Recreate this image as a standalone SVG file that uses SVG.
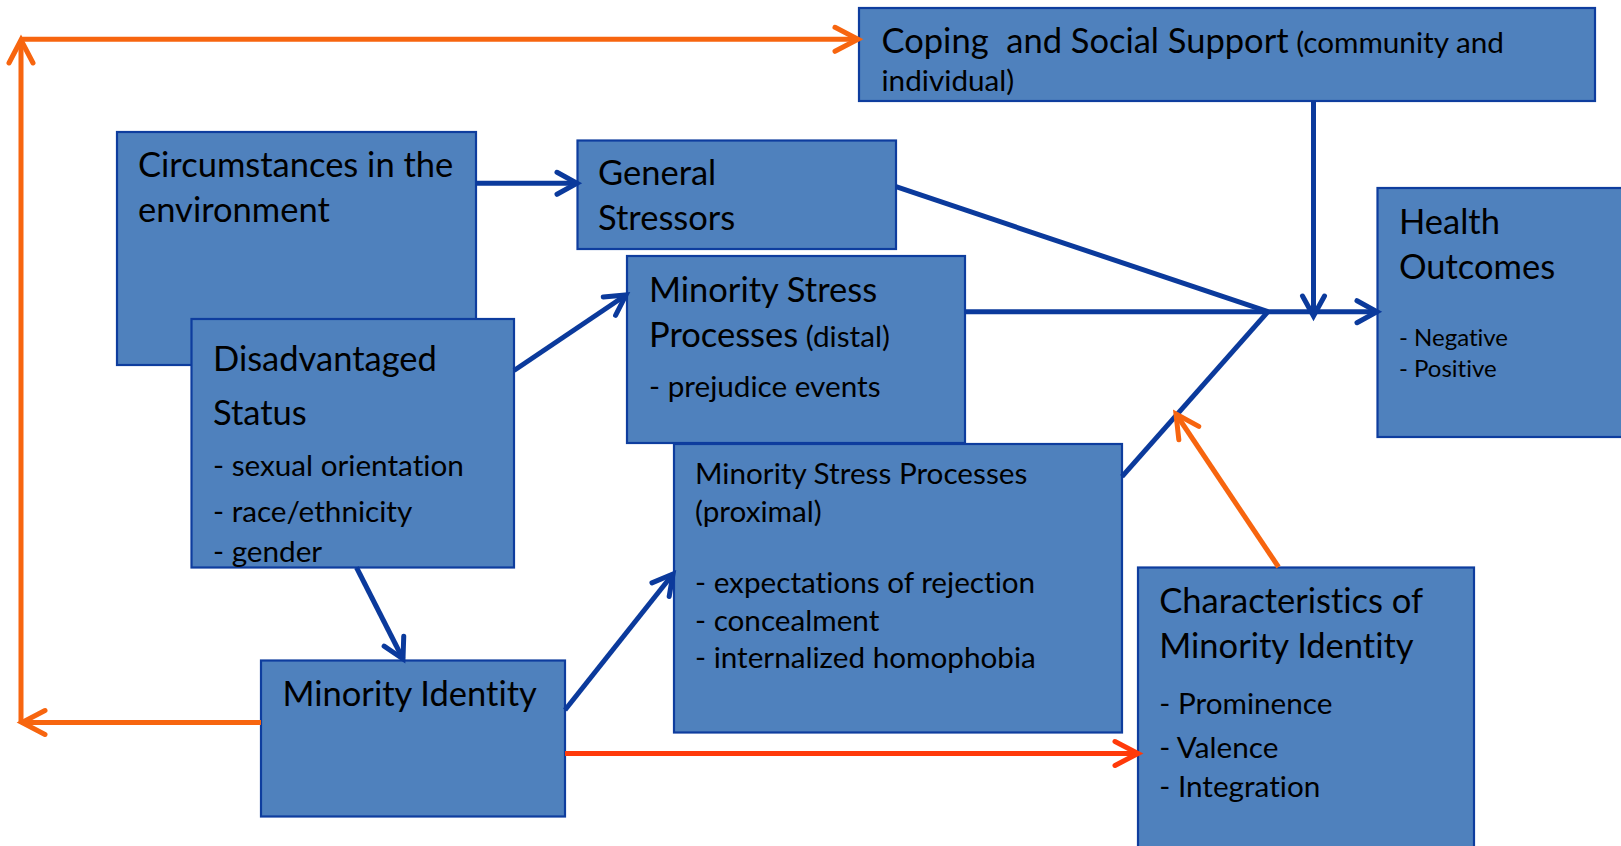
<svg xmlns="http://www.w3.org/2000/svg" width="1621" height="846" viewBox="0 0 1621 846">
<defs>
<style>
.box{fill:#4F81BD;stroke:#0E3D9E;stroke-width:2.2}
text{font-family:Lato,"Liberation Sans",sans-serif;fill:#000;font-variant-ligatures:none}
.b{font-size:34.5px}
.s{font-size:29.7px}
.xs{font-size:24px}
.cb{stroke:#0B3A9C;stroke-width:5;fill:none}
.co{stroke:#F7650F;stroke-width:5;fill:none}
.cr{stroke:#FF3A0A;stroke-width:5;fill:none}
</style>
<marker id="aB" viewBox="-26 -16 32 32" markerWidth="32" markerHeight="32" refX="0" refY="0" orient="auto" markerUnits="userSpaceOnUse" overflow="visible">
<path d="M-20,-11 L0,0 L-20,11" fill="none" stroke="#0B3A9C" stroke-width="5" stroke-linecap="round" stroke-linejoin="miter"/>
</marker>
<marker id="aO" viewBox="-26 -16 32 32" markerWidth="32" markerHeight="32" refX="0" refY="0" orient="auto" markerUnits="userSpaceOnUse" overflow="visible">
<path d="M-23,-12 L0,0 L-23,12" fill="none" stroke="#F7650F" stroke-width="5" stroke-linecap="round" stroke-linejoin="miter"/>
</marker>
<marker id="aR" viewBox="-26 -16 32 32" markerWidth="32" markerHeight="32" refX="0" refY="0" orient="auto" markerUnits="userSpaceOnUse" overflow="visible">
<path d="M-23,-12 L0,0 L-23,12" fill="none" stroke="#FF3A0A" stroke-width="5" stroke-linecap="round" stroke-linejoin="miter"/>
</marker>
</defs>
<rect width="1621" height="846" fill="#fff"/>

<g id="coping">
<rect class="box" x="859" y="8" width="736" height="93"/>
<text x="881.5" y="53.3" xml:space="preserve"><tspan class="b">Coping  and Social Support</tspan><tspan class="s"> (community and</tspan></text>
<text class="s" x="881.5" y="90.7">individual)</text>
</g>

<g id="circumstances">
<rect class="box" x="117" y="132" width="359" height="233"/>
<text class="b" x="138" y="177">Circumstances in the</text>
<text class="b" x="138" y="222">environment</text>
</g>

<g id="general">
<rect class="box" x="577.5" y="140.5" width="318.5" height="108.5"/>
<text class="b" x="598" y="185">General</text>
<text class="b" x="598" y="230">Stressors</text>
</g>

<g id="distal">
<rect class="box" x="627" y="256" width="338" height="187"/>
<text class="b" x="649" y="301.7">Minority Stress</text>
<text x="649" y="346.7"><tspan class="b">Processes</tspan><tspan class="s"> (distal)</tspan></text>
<text class="s" x="649" y="397">- prejudice events</text>
</g>

<g id="disadvantaged">
<rect class="box" x="191.5" y="319" width="322.5" height="248.5"/>
<text class="b" x="213" y="371">Disadvantaged</text>
<text class="b" x="213" y="424.5">Status</text>
<text class="s" x="213" y="475.5">- sexual orientation</text>
<text class="s" x="213" y="522">- race/ethnicity</text>
<text class="s" x="213" y="562">- gender</text>
</g>

<g id="health">
<rect class="box" x="1377.5" y="188" width="260" height="249"/>
<text class="b" x="1399" y="234">Health</text>
<text class="b" x="1399" y="279">Outcomes</text>
<text class="xs" x="1399" y="345.7">- Negative</text>
<text class="xs" x="1399" y="377.3">- Positive</text>
</g>

<g id="proximal">
<rect class="box" x="674" y="444" width="448" height="288.5"/>
<text class="s" x="695" y="483.5">Minority Stress Processes</text>
<text class="s" x="695" y="521.7">(proximal)</text>
<text class="s" x="695" y="593.3">- expectations of rejection</text>
<text class="s" x="695" y="630.7">- concealment</text>
<text class="s" x="695" y="668.3">- internalized homophobia</text>
</g>

<g id="minority-identity">
<rect class="box" x="261" y="660.5" width="304" height="156"/>
<text class="b" x="282.5" y="706.3">Minority Identity</text>
</g>

<g id="characteristics">
<rect class="box" x="1138" y="567.5" width="336" height="300"/>
<text class="b" x="1159.3" y="612.7">Characteristics of</text>
<text class="b" x="1159.3" y="658.3">Minority Identity</text>
<text class="s" x="1159.3" y="714">- Prominence</text>
<text class="s" x="1159.3" y="758.3">- Valence</text>
<text class="s" x="1159.3" y="796.7">- Integration</text>
</g>

<g id="connectors">
<line class="cb" x1="476" y1="183.3" x2="577" y2="183.3" marker-end="url(#aB)"/>
<line class="cb" x1="514" y1="370.5" x2="626" y2="295" marker-end="url(#aB)"/>
<line class="cb" x1="356.5" y1="567.5" x2="403" y2="659" marker-end="url(#aB)"/>
<line class="cb" x1="565" y1="710" x2="673" y2="574" marker-end="url(#aB)"/>
<line class="cb" x1="896" y1="186.7" x2="1268" y2="311.7"/>
<line class="cb" x1="965" y1="311.7" x2="1377" y2="311.7" marker-end="url(#aB)"/>
<line class="cb" stroke-width="4.2" x1="1122" y1="476.7" x2="1268" y2="311.7"/>
<line class="cb" stroke-width="4.2" x1="1313.5" y1="101" x2="1313.5" y2="316" marker-end="url(#aB)"/>
<line class="co" x1="261" y1="722.5" x2="22" y2="722.5" marker-end="url(#aO)"/>
<line class="co" x1="21" y1="722.5" x2="21" y2="40" marker-end="url(#aO)"/>
<line class="co" x1="21" y1="39.3" x2="858" y2="39.3" marker-end="url(#aO)"/>
<line class="cr" x1="565" y1="753.5" x2="1138" y2="753.5" marker-end="url(#aR)"/>
<line class="co" stroke-width="4.2" x1="1278.5" y1="567" x2="1176" y2="414" marker-end="url(#aO)"/>
</g>
</svg>
